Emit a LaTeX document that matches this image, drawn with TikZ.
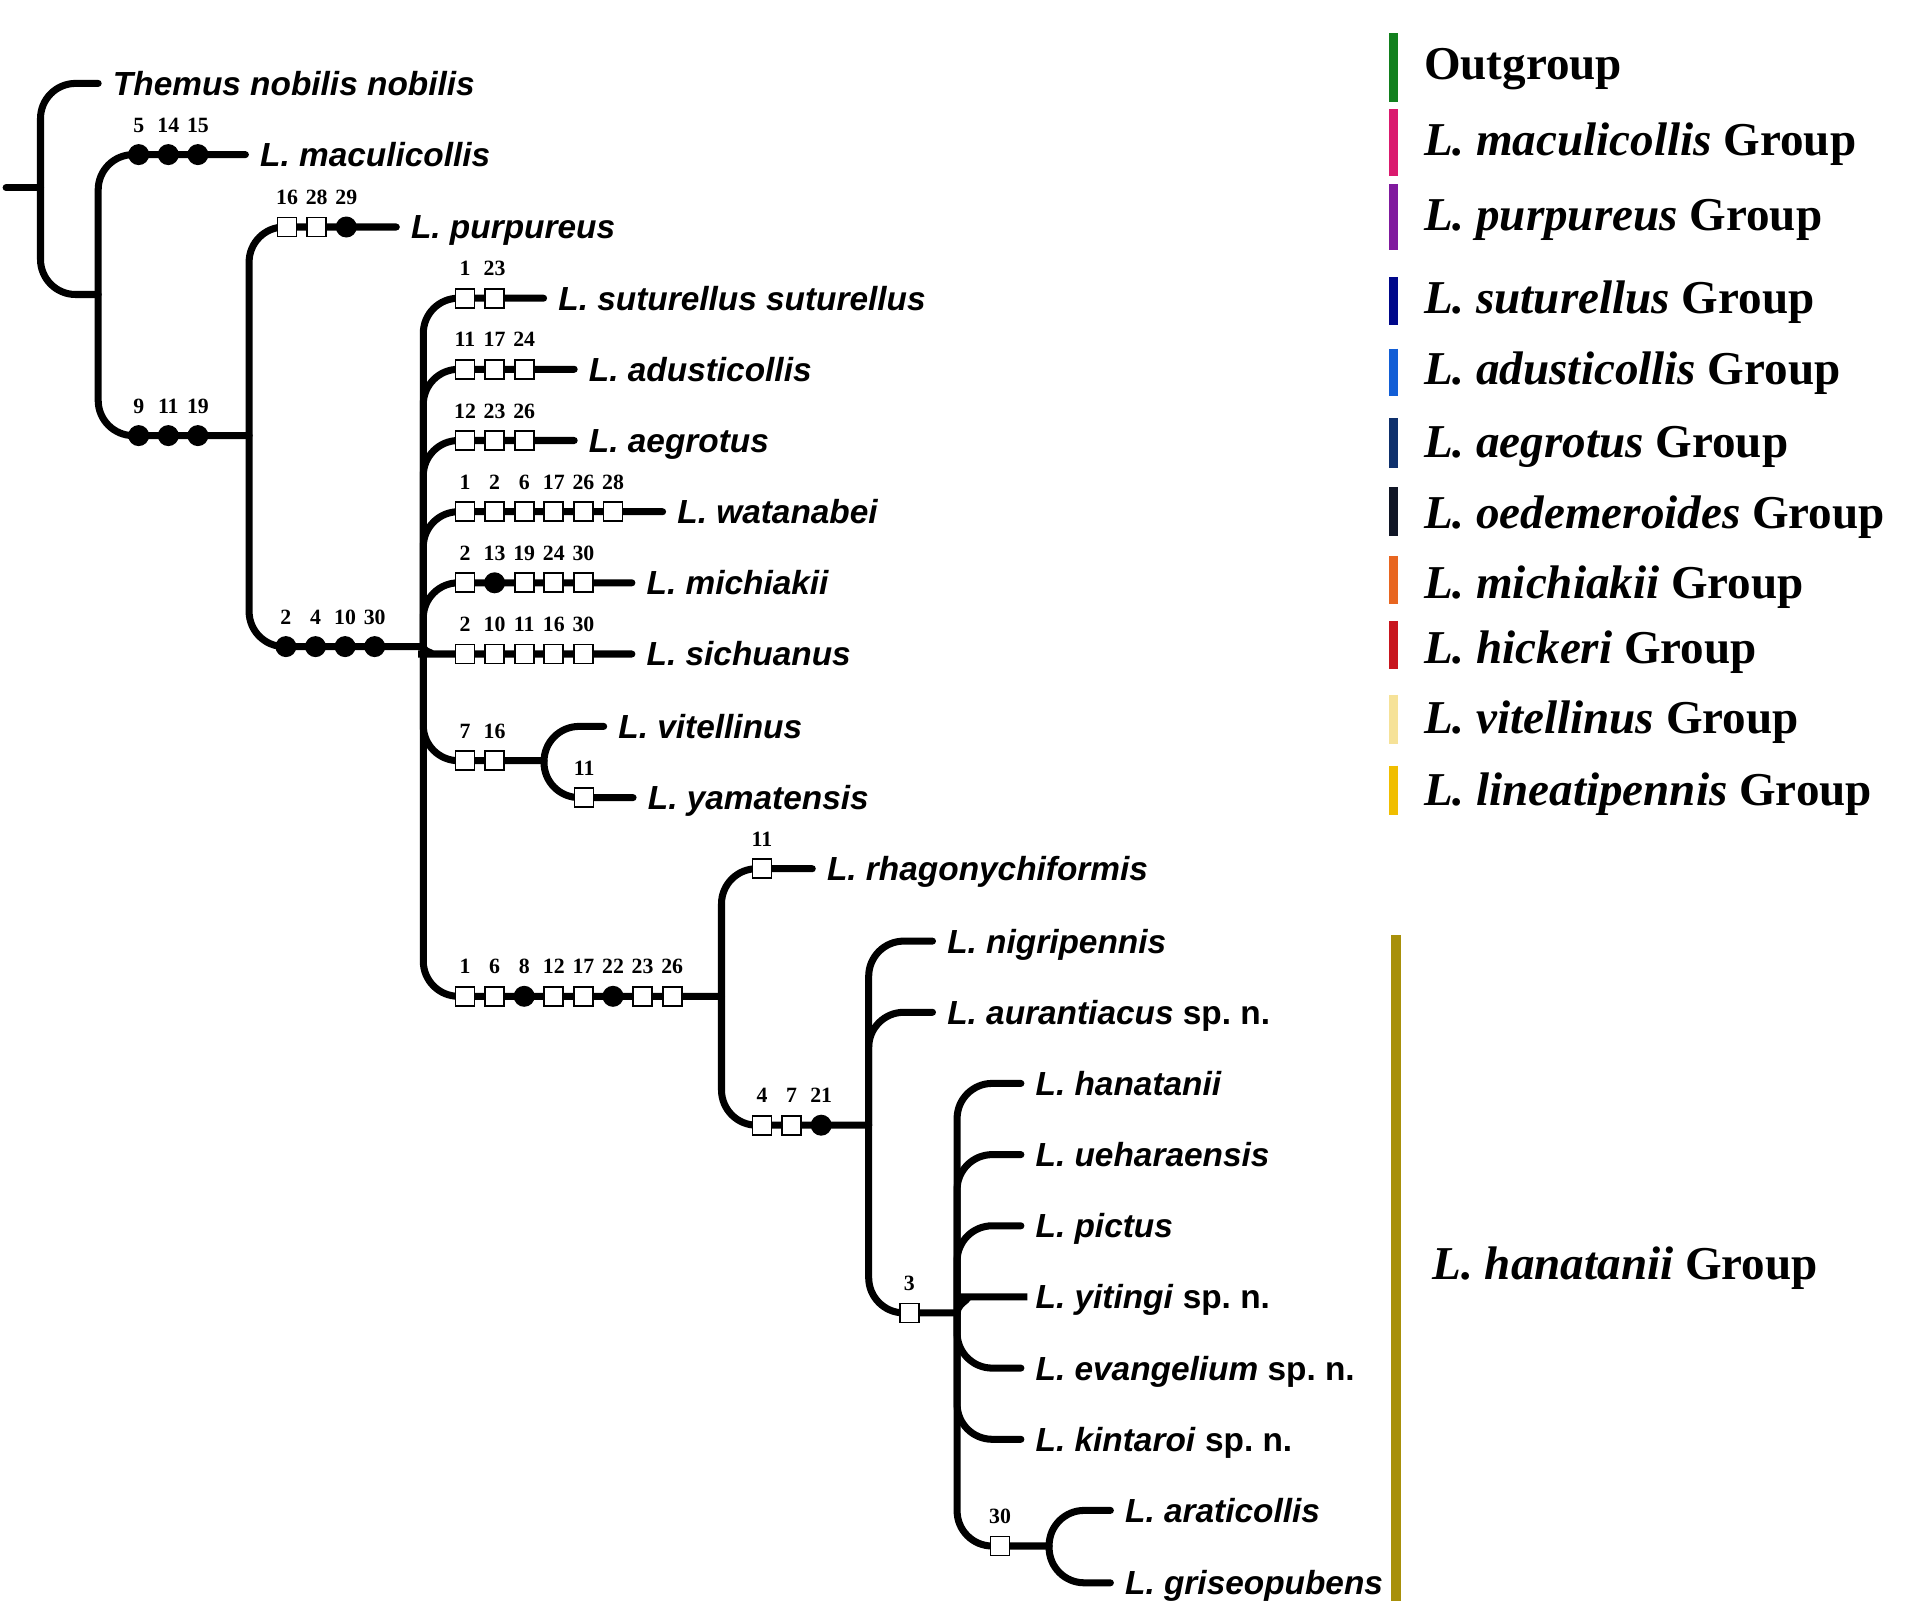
\documentclass[tikz,border=0pt]{standalone}
\usepackage{fontspec}
\setmainfont{Liberation Serif}
\setsansfont{Liberation Sans}
\usepackage{xcolor}
\usepackage{tikz}
\usetikzlibrary{positioning,calc}
\newcommand{\spn}{\textup{sp.~n.}}
\newcommand{\chstep}{0.296}
% one row of character states along a branch: name, first position, list of kind/number
\newcommand{\chars}[3]{%
  \foreach \kind/\num [count=\i from 0] in {#3}{%
    \node[\kind] (#1\i) at ($(#2)+(\i*\chstep,0)$) {};
    \node[num] (#1\i-n) at ($(#2)+(\i*\chstep,0.225)$) {\num};
  }}
\definecolor{clrOut}{RGB}{18,128,30}
\definecolor{clrMacu}{RGB}{218,26,110}
\definecolor{clrPurp}{RGB}{128,26,158}
\definecolor{clrSutu}{RGB}{0,8,138}
\definecolor{clrAdus}{RGB}{18,94,214}
\definecolor{clrAegr}{RGB}{14,48,108}
\definecolor{clrOede}{RGB}{16,22,38}
\definecolor{clrMich}{RGB}{232,102,32}
\definecolor{clrHick}{RGB}{200,22,30}
\definecolor{clrVite}{RGB}{246,226,152}
\definecolor{clrLine}{RGB}{240,190,0}
\definecolor{clrHana}{RGB}{168,144,10}
\tikzset{
  branch/.style={line width=2pt,rounded corners=10pt,line cap=round},
  taxon/.style={anchor=west,font=\sffamily\bfseries\itshape\fontsize{9.5}{11}\selectfont,
    inner xsep=4pt,inner ysep=0pt,text height=6.8pt,text depth=0pt},
  obox/.style={rectangle,draw=black,line width=0.5pt,fill=white,minimum size=0.19cm,inner sep=0pt},
  fdot/.style={circle,fill=black,minimum size=0.21cm,inner sep=0pt},
  num/.style={anchor=base,inner sep=0pt,font=\rmfamily\bfseries\fontsize{6.2}{7}\selectfont},
  group/.style={anchor=west,font=\bfseries\fontsize{13.4}{16}\selectfont,
    inner sep=0pt,text height=8.9pt,text depth=0pt},
  grpbar/.style={line width=2.6pt}
}
\begin{document}
\begin{tikzpicture}[x=1cm,y=1cm]
  \useasboundingbox (0,0) rectangle (19.24,-16.22);
  % terminal taxa
  \node[taxon] (themus) at (0.982,-0.834) {Themus nobilis nobilis};
  \node[taxon] (macu) at (2.454,-1.546) {L. maculicollis};
  \node[taxon] (purp) at (3.963,-2.270) {L. purpureus};
  \node[taxon] (sutu) at (5.436,-2.982) {L. suturellus suturellus};
  \node[taxon] (adus) at (5.742,-3.693) {L. adusticollis};
  \node[taxon] (aegr) at (5.742,-4.405) {L. aegrotus};
  \node[taxon] (wata) at (6.626,-5.117) {L. watanabei};
  \node[taxon] (mich) at (6.319,-5.828) {L. michiakii};
  \node[taxon] (sich) at (6.319,-6.540) {L. sichuanus};
  \node[taxon] (vite) at (6.037,-7.264) {L. vitellinus};
  \node[taxon] (yama) at (6.331,-7.976) {L. yamatensis};
  \node[taxon] (rhag) at (8.123,-8.687) {L. rhagonychiformis};
  \node[taxon] (nigr) at (9.325,-9.411) {L. nigripennis};
  \node[taxon] (aura) at (9.325,-10.123) {L. aurantiacus \spn};
  \node[taxon] (hana) at (10.209,-10.834) {L. hanatanii};
  \node[taxon] (uehr) at (10.209,-11.546) {L. ueharaensis};
  \node[taxon] (pict) at (10.209,-12.258) {L. pictus};
  \node[taxon] (yiti) at (10.209,-12.969) {L. yitingi \spn};
  \node[taxon] (evan) at (10.209,-13.681) {L. evangelium \spn};
  \node[taxon] (kint) at (10.209,-14.393) {L. kintaroi \spn};
  \node[taxon] (arat) at (11.104,-15.104) {L. araticollis};
  \node[taxon] (gris) at (11.104,-15.828) {L. griseopubens};
  % internal nodes
  \coordinate (stub) at (0.061,-1.877);
  \coordinate (n0) at (0.405,-1.877);
  \coordinate (n1) at (0.982,-2.945);
  \coordinate (n2) at (2.491,-4.356);
  \coordinate (n3) at (4.233,-6.466);
  \coordinate (n4) at (5.440,-7.607);
  \coordinate (n5) at (7.215,-9.963);
  \coordinate (n6) at (8.687,-11.252);
  \coordinate (n7) at (9.571,-13.129);
  \coordinate (n8) at (10.491,-15.460);
  % branches
  \draw[branch] (stub) -- (n0);
  \draw[branch] (themus.west) -| (n0) |- (n1);
  \draw[branch] (macu.west) -| (n1) |- (n2);
  \draw[branch] (purp.west) -| (n2) |- (n3);
  \draw[branch] (n3) |- (sutu.west);
  \draw[branch] (n3) |- (adus.west);
  \draw[branch] (n3) |- (aegr.west);
  \draw[branch] (n3) |- (wata.west);
  \draw[branch] (n3) |- (mich.west);
  \draw[branch] (n3) to[out=-90,in=180,looseness=0.6] ++(0.3,-0.074) -- (sich.west);
  \draw[branch] (n3) |- (n4);
  \draw[branch] (vite.west) -| (n4 |- yama.west) -- (yama.west);
  \draw[branch] (n3) |- (n5);
  \draw[branch] (rhag.west) -| (n5) |- (n6);
  \draw[branch] (n6) |- (nigr.west);
  \draw[branch] (n6) |- (aura.west);
  \draw[branch] (n6) |- (n7);
  \draw[branch] (n7) |- (hana.west);
  \draw[branch] (n7) |- (uehr.west);
  \draw[branch] (n7) |- (pict.west);
  \draw[branch] (n7) to[out=90,in=180,looseness=0.8] ++(0.35,0.16) -- (yiti.west);
  \draw[branch] (n7) |- (evan.west);
  \draw[branch] (n7) |- (kint.west);
  \draw[branch] (n7) |- (n8);
  \draw[branch] (arat.west) -| (n8 |- gris.west) -- (gris.west);
  % character states
  \chars{mac}{1.387,-1.546}{fdot/5,fdot/14,fdot/15}
  \chars{ing}{1.387,-4.356}{fdot/9,fdot/11,fdot/19}
  \chars{pur}{2.871,-2.270}{obox/16,obox/28,fdot/29}
  \chars{cor}{2.859,-6.466}{fdot/2,fdot/4,fdot/10,fdot/30}
  \chars{sut}{4.650,-2.982}{obox/1,obox/23}
  \chars{adu}{4.650,-3.693}{obox/11,obox/17,obox/24}
  \chars{aeg}{4.650,-4.405}{obox/12,obox/23,obox/26}
  \chars{wat}{4.650,-5.117}{obox/1,obox/2,obox/6,obox/17,obox/26,obox/28}
  \chars{mic}{4.650,-5.828}{obox/2,fdot/13,obox/19,obox/24,obox/30}
  \chars{sic}{4.650,-6.540}{obox/2,obox/10,obox/11,obox/16,obox/30}
  \chars{vit}{4.650,-7.607}{obox/7,obox/16}
  \chars{yam}{5.841,-7.976}{obox/11}
  \chars{han}{4.650,-9.963}{obox/1,obox/6,fdot/8,obox/12,obox/17,fdot/22,obox/23,obox/26}
  \chars{rha}{7.620,-8.687}{obox/11}
  \chars{nig}{7.620,-11.252}{obox/4,obox/7,fdot/21}
  \chars{hcl}{9.092,-13.129}{obox/3}
  \chars{ara}{10.000,-15.460}{obox/30}
  % legend
  \draw[grpbar,clrOut] (13.939,-0.331) -- (13.939,-1.018);
  \draw[grpbar,clrMacu] (13.939,-1.092) -- (13.939,-1.755);
  \draw[grpbar,clrPurp] (13.939,-1.841) -- (13.939,-2.503);
  \draw[grpbar,clrSutu] (13.939,-2.773) -- (13.939,-3.252);
  \draw[grpbar,clrAdus] (13.939,-3.485) -- (13.939,-3.963);
  \draw[grpbar,clrAegr] (13.939,-4.184) -- (13.939,-4.675);
  \draw[grpbar,clrOede] (13.939,-4.871) -- (13.939,-5.362);
  \draw[grpbar,clrMich] (13.939,-5.558) -- (13.939,-6.037);
  \draw[grpbar,clrHick] (13.939,-6.209) -- (13.939,-6.687);
  \draw[grpbar,clrVite] (13.939,-6.945) -- (13.939,-7.436);
  \draw[grpbar,clrLine] (13.939,-7.656) -- (13.939,-8.147);
  \draw[grpbar,clrHana,line width=2.9pt] (13.963,-9.350) -- (13.963,-16.012);
  \node[group] (gOut) at (14.233,-0.638) {Outgroup};
  \node[group] (gMacu) at (14.233,-1.399) {\textit{L. maculicollis} Group};
  \node[group] (gPurp) at (14.233,-2.147) {\textit{L. purpureus} Group};
  \node[group] (gSutu) at (14.233,-2.982) {\textit{L. suturellus} Group};
  \node[group] (gAdus) at (14.233,-3.693) {\textit{L. adusticollis} Group};
  \node[group] (gAegr) at (14.233,-4.417) {\textit{L. aegrotus} Group};
  \node[group] (gOede) at (14.233,-5.129) {\textit{L. oedemeroides} Group};
  \node[group] (gMich) at (14.233,-5.828) {\textit{L. michiakii} Group};
  \node[group] (gHick) at (14.233,-6.479) {\textit{L. hickeri} Group};
  \node[group] (gVite) at (14.233,-7.178) {\textit{L. vitellinus} Group};
  \node[group] (gLine) at (14.233,-7.902) {\textit{L. lineatipennis} Group};
  \node[group] (gHana) at (14.319,-12.638) {\textit{L. hanatanii} Group};
\end{tikzpicture}
\end{document}
